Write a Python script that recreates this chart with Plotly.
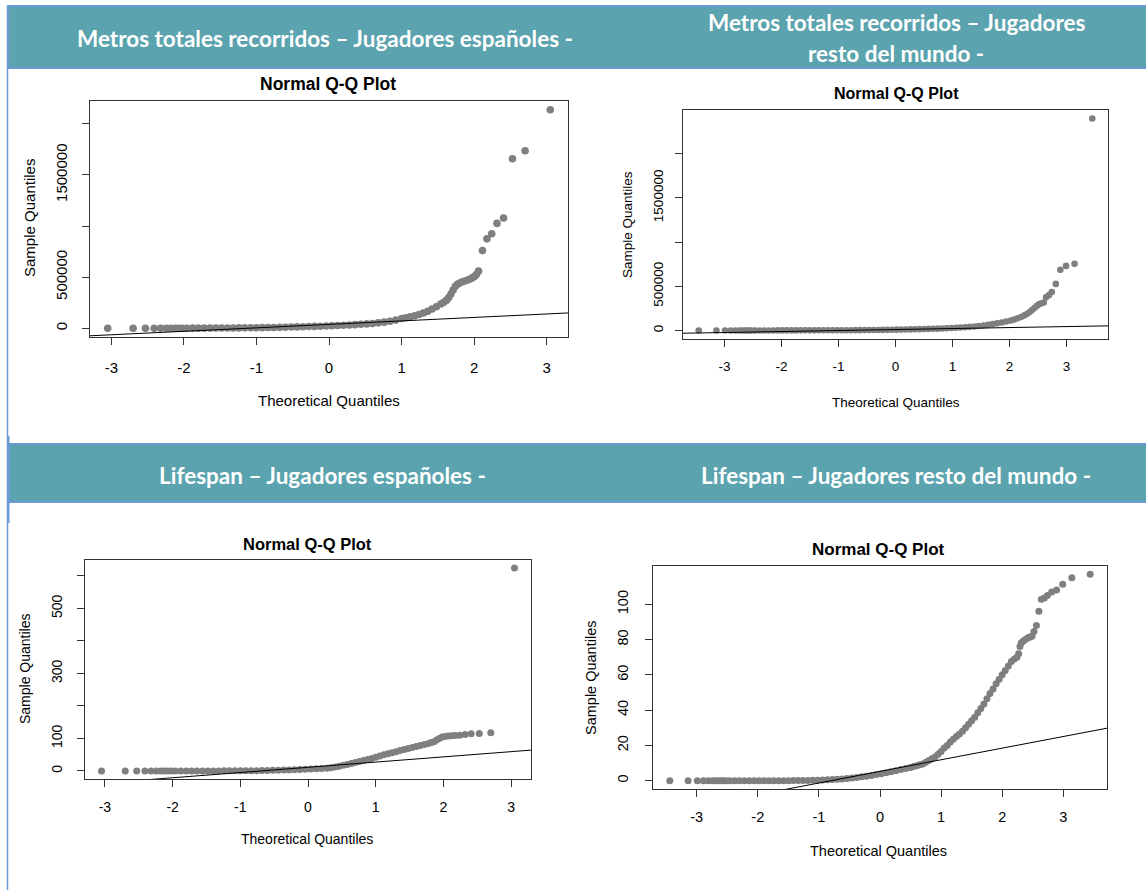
import plotly.graph_objects as go

W, H = 1146, 890

# ---------------- data ----------------
x_ticks = [-3, -2, -1, 0, 1, 2, 3]
x_ticktext = ["-3", "-2", "-1", "0", "1", "2", "3"]

# Panel 1: Metros totales recorridos - Jugadores españoles
p1_theo = [-3.05, -2.70, -2.53, -2.41, -2.32, -2.24, -2.175, -2.12, -2.07, -2.02,
           -1.96, -1.88, -1.80, -1.72, -1.64, -1.56, -1.48, -1.40, -1.32, -1.24,
           -1.16, -1.08, -1.00, -0.92, -0.84, -0.76, -0.68, -0.60, -0.52, -0.44,
           -0.36, -0.28, -0.20, -0.12, -0.04, 0.04, 0.12, 0.20, 0.28, 0.36,
           0.44, 0.52, 0.60, 0.68, 0.76, 0.84, 0.92, 1.00,
           1.06, 1.12, 1.18, 1.24, 1.30, 1.36, 1.42, 1.48, 1.54, 1.58,
           1.62, 1.65, 1.68, 1.71, 1.74, 1.77, 1.80, 1.84, 1.88, 1.92,
           1.96, 2.00, 2.03, 2.06,
           2.114, 2.176, 2.242, 2.314, 2.405, 2.528, 2.702, 3.049]
p1_sample = [0, 0, 0, 0, 0, 100, 200, 300, 400, 500,
             700, 900, 1100, 1300, 1600, 1900, 2200, 2600, 3000, 3500,
             4000, 4600, 5200, 6000, 6800, 7800, 9000, 10300, 11700, 13200,
             14800, 16500, 18300, 20300, 22400, 24600, 27000, 29500, 32200, 35200,
             38500, 42500, 47000, 53000, 60000, 68000, 80000, 95000,
             103000, 112000, 122000, 135000, 150000, 166000, 188000, 210000, 238000, 255000,
             275000, 300000, 335000, 375000, 410000, 430000, 443000, 455000, 465000, 475000,
             488000, 505000, 525000, 559000,
             760000, 875000, 924000, 1026000, 1079000, 1658000, 1737000, 2138000]
p1_line_x = [-3.3, 3.3]
p1_line_y = [-74000, 150000]
p1_yticks = [0, 500000, 1000000, 1500000, 2000000]
p1_yticktext = ["0", "500000", "", "1500000", ""]

# Panel 2: Metros totales recorridos - Jugadores resto del mundo
p2_theo = [-3.45, -3.14, -2.99, -2.89, -2.81, -2.74, -2.69, -2.64, -2.60, -2.56, -2.52,
           -2.46, -2.38, -2.30, -2.22, -2.14, -2.06, -1.98, -1.90, -1.82, -1.74,
           -1.66, -1.58, -1.50, -1.42, -1.34, -1.26, -1.18, -1.10, -1.02, -0.94,
           -0.86, -0.78, -0.70, -0.62, -0.54, -0.46, -0.38, -0.30, -0.22, -0.14,
           -0.06, 0.02, 0.10, 0.18, 0.26, 0.34, 0.42, 0.50, 0.58, 0.66,
           0.74, 0.82, 0.90, 0.98, 1.06, 1.14, 1.22, 1.30, 1.38, 1.46,
           1.54, 1.62, 1.70, 1.78, 1.86, 1.94, 2.02, 2.08, 2.14, 2.20,
           2.26, 2.31, 2.36, 2.40, 2.44, 2.48, 2.52, 2.56, 2.60, 2.64,
           2.69, 2.74, 2.81, 2.89, 2.99, 3.14, 3.45]
p2_sample = [0, 0, 0, 100, 200, 300, 350, 400, 450, 500, 550,
             600, 700, 800, 900, 1000, 1100, 1200, 1300, 1400, 1550,
             1700, 1850, 2000, 2150, 2300, 2500, 2700, 2900, 3100, 3300,
             3550, 3800, 4100, 4400, 4800, 5200, 5700, 6300, 7000, 7800,
             8700, 9600, 10600, 11600, 12700, 13900, 15200, 16600, 18100, 19700,
             21400, 23500, 25800, 28300, 31000, 34000, 37500, 41500, 46000, 51000,
             57000, 64000, 72000, 81000, 91000, 102000, 114000, 125000, 138000, 153000,
             171000, 190000, 212000, 235000, 258000, 280000, 298000, 308000, 316000, 375000,
             400000, 435000, 527000, 686000, 731000, 754000, 2398000]
p2_line_x = [-3.75, 3.75]
p2_line_y = [-31000, 53000]
p2_yticks = [0, 500000, 1000000, 1500000, 2000000]
p2_yticktext = ["0", "500000", "", "1500000", ""]

# Panel 3: Lifespan - Jugadores españoles
p3_theo = [-3.05, -2.70, -2.53, -2.41, -2.32, -2.24, -2.175, -2.12, -2.07, -2.02,
           -1.96, -1.88, -1.80, -1.72, -1.64, -1.56, -1.48, -1.40, -1.32, -1.24,
           -1.16, -1.08, -1.00, -0.92, -0.84, -0.76, -0.68, -0.60, -0.52, -0.44,
           -0.36, -0.28, -0.20, -0.12, -0.04, 0.04, 0.12, 0.20, 0.28, 0.34,
           0.40, 0.46, 0.52, 0.58, 0.64, 0.70, 0.76, 0.82, 0.88, 0.94,
           1.00, 1.06, 1.12, 1.18, 1.24, 1.30, 1.36, 1.42, 1.48, 1.54,
           1.60, 1.66, 1.72, 1.78, 1.82, 1.86, 1.90, 1.94, 1.98, 2.02,
           2.07, 2.12, 2.175, 2.24, 2.32, 2.41, 2.53, 2.70, 3.05]
p3_sample = [0, 0, 0, 0, 0, 0, 0, 0, 0, 0,
             0, 0, 0, 0, 0, 0, 0, 0, 0, 0.1,
             0.1, 0.2, 0.3, 0.4, 0.5, 0.7, 0.9, 1.2, 1.6, 2.0,
             2.5, 3.0, 3.6, 4.2, 4.8, 5.5, 6.3, 7.2, 8.5, 10,
             12, 14, 17, 20, 23, 26, 29, 32, 35, 38,
             42, 46, 50, 53, 56, 59, 63, 66, 69, 72,
             75, 78, 81, 84, 87, 90, 95, 100, 104, 106,
             107, 108, 109, 110, 112, 114, 115, 117, 624]
p3_line_x = [-3.3, 3.3]
p3_line_y = [-42, 64]
p3_yticks = [0, 100, 200, 300, 400, 500, 600]
p3_yticktext = ["0", "100", "", "300", "", "500", ""]

# Panel 4: Lifespan - Jugadores resto del mundo
p4_theo = [-3.44, -3.14, -2.99, -2.89, -2.81, -2.74, -2.69, -2.64, -2.60, -2.56, -2.52,
           -2.46, -2.38, -2.30, -2.22, -2.14, -2.06, -1.98, -1.90, -1.82, -1.74,
           -1.66, -1.58, -1.50, -1.42, -1.34, -1.26, -1.18, -1.10, -1.02, -0.94,
           -0.86, -0.78, -0.70, -0.62, -0.54, -0.46, -0.38, -0.30, -0.22, -0.14,
           -0.06, 0.02, 0.10, 0.18, 0.26, 0.34, 0.42, 0.50,
           0.55, 0.60, 0.65, 0.70, 0.75, 0.80, 0.85, 0.90, 0.95, 1.00,
           1.05, 1.10, 1.15, 1.20, 1.25, 1.30, 1.35, 1.40, 1.45, 1.50,
           1.55, 1.60, 1.65, 1.70, 1.75, 1.80, 1.85, 1.90, 1.95, 2.00,
           2.05, 2.10, 2.15, 2.20, 2.24, 2.27, 2.29, 2.31, 2.34, 2.38,
           2.42, 2.46, 2.49,
           2.52, 2.56, 2.60, 2.64, 2.69, 2.74, 2.81, 2.89, 2.99, 3.14, 3.44]
p4_sample = [0, 0, 0, 0, 0, 0, 0, 0, 0, 0, 0,
             0, 0, 0, 0, 0, 0, 0, 0, 0, 0,
             0, 0, 0, 0.1, 0.1, 0.15, 0.2, 0.25, 0.3, 0.4,
             0.5, 0.65, 0.8, 1.0, 1.2, 1.5, 1.8, 2.2, 2.6, 3.0,
             3.5, 4.0, 4.5, 5.1, 5.7, 6.3, 7.0, 7.5,
             8.0, 8.5, 9.0, 9.5, 10.5, 11.5, 12.5, 13.5, 15, 16.5,
             18.5, 20, 22, 23.5, 25, 26.5, 28, 30, 32, 34,
             36, 38.5, 41, 43.5, 46.5, 49.5, 52, 55, 57.5, 60,
             62.5, 65, 67.5, 69, 70, 72, 76, 78, 79, 80,
             81, 81.5, 82,
             84.5, 88, 96, 102.8, 103.5, 105, 107, 108.1, 111.3, 115, 117]
p4_line_x = [-3.75, 3.75]
p4_line_y = [-19.4, 30.0]
p4_yticks = [0, 20, 40, 60, 80, 100]
p4_yticktext = ["0", "20", "40", "60", "80", "100"]

banner_texts = ["Metros totales recorridos – Jugadores españoles -",
                "Metros totales recorridos – Jugadores",
                "resto del mundo -",
                "Lifespan – Jugadores españoles -",
                "Lifespan – Jugadores resto del mundo -"]

# ---------------- layout helpers (pixel -> paper) ----------------
def fx(px):
    return px / W

def fy(py):
    return 1 - py / H

R_FONT = "Liberation Sans, Arial, Helvetica, sans-serif"
BANNER_FONT = "Lato, Open Sans, sans-serif"
TEAL = "#5BA3AE"
BLUE = "#6A9BD4"
PT_COL = "#7F7F7F"
AX_COL = "#333333"

panels = [
    dict(theo=p1_theo, sample=p1_sample, lx=p1_line_x, ly=p1_line_y,
         yt=p1_yticks, ytt=p1_yticktext, box=(90, 101, 568, 337), ms=7.6, fs=15,
         title=(328, 84), xlab=(329, 401), ylab=(29, 218), xso=10, yso=9),
    dict(theo=p2_theo, sample=p2_sample, lx=p2_line_x, ly=p2_line_y,
         yt=p2_yticks, ytt=p2_yticktext, box=(683, 110, 1108, 339), ms=6.6, fs=13.5,
         title=(896, 93), xlab=(896, 402), ylab=(627, 225), xso=8, yso=7),
    dict(theo=p3_theo, sample=p3_sample, lx=p3_line_x, ly=p3_line_y,
         yt=p3_yticks, ytt=p3_yticktext, box=(85, 560, 531, 779), ms=7.0, fs=14,
         title=(307, 544), xlab=(307, 839), ylab=(25, 669), xso=8, yso=9),
    dict(theo=p4_theo, sample=p4_sample, lx=p4_line_x, ly=p4_line_y,
         yt=p4_yticks, ytt=p4_yticktext, box=(653, 566, 1107, 789), ms=7.0, fs=14.5,
         title=(878, 549), xlab=(878, 851), ylab=(591, 678), xso=8, yso=11),
]

fig = go.Figure()
annotations = []
layout_axes = {}

for i, p in enumerate(panels, start=1):
    sfx = "" if i == 1 else str(i)
    xa, ya = "x" + sfx, "y" + sfx
    fig.add_trace(go.Scatter(x=p["theo"], y=p["sample"], mode="markers",
                             marker=dict(color=PT_COL, size=p["ms"], line=dict(width=0)),
                             xaxis=xa, yaxis=ya, hoverinfo="x+y", cliponaxis=False))
    fig.add_trace(go.Scatter(x=p["lx"], y=p["ly"], mode="lines",
                             line=dict(color="black", width=1),
                             xaxis=xa, yaxis=ya, hoverinfo="skip"))
    # R-style axis ranges: data range extended by 4% on each side
    xmin, xmax = min(p["theo"]), max(p["theo"])
    ymin, ymax = min(p["sample"]), max(p["sample"])
    dx, dy = (xmax - xmin) * 0.04, (ymax - ymin) * 0.04
    x0, y0, x1, y1 = p["box"]
    common = dict(showgrid=False, zeroline=False, showline=True, mirror=True,
                  linecolor=AX_COL, linewidth=1, ticks="outside", ticklen=7,
                  tickcolor=AX_COL, tickwidth=1,
                  tickfont=dict(family=R_FONT, size=p["fs"], color="black"))
    layout_axes["xaxis" + sfx] = dict(common, domain=[fx(x0), fx(x1)],
                                      range=[xmin - dx, xmax + dx], anchor=ya,
                                      tickvals=x_ticks, ticktext=x_ticktext,
                                      ticklabelstandoff=p["xso"])
    layout_axes["yaxis" + sfx] = dict(common, domain=[fy(y1), fy(y0)],
                                      range=[ymin - dy, ymax + dy], anchor=xa,
                                      tickvals=p["yt"], ticktext=p["ytt"],
                                      tickangle=-90, ticklabelstandoff=p["yso"])
    annotations.append(dict(text="<b>Normal Q-Q Plot</b>", x=fx(p["title"][0]), y=fy(p["title"][1]),
                            xref="paper", yref="paper", showarrow=False,
                            xanchor="center", yanchor="middle",
                            font=dict(family=R_FONT, size=p["fs"] + 2.5, color="black")))
    annotations.append(dict(text="Theoretical Quantiles", x=fx(p["xlab"][0]), y=fy(p["xlab"][1]),
                            xref="paper", yref="paper", showarrow=False,
                            xanchor="center", yanchor="middle",
                            font=dict(family=R_FONT, size=p["fs"], color="black")))
    annotations.append(dict(text="Sample Quantiles", x=fx(p["ylab"][0]), y=fy(p["ylab"][1]),
                            xref="paper", yref="paper", showarrow=False, textangle=-90,
                            xanchor="center", yanchor="middle",
                            font=dict(family=R_FONT, size=p["fs"], color="black")))

# banners
shapes = [
    dict(type="line", xref="paper", yref="paper", x0=fx(7.5), x1=fx(7.5), y0=fy(6), y1=fy(890),
         line=dict(color=BLUE, width=1.5)),
    dict(type="rect", xref="paper", yref="paper", x0=fx(7), x1=fx(9.5), y0=fy(523), y1=fy(436),
         fillcolor=BLUE, line=dict(width=0)),
    dict(type="rect", xref="paper", yref="paper", x0=fx(8), x1=fx(1150), y0=fy(68), y1=fy(6),
         fillcolor=TEAL, line=dict(color=BLUE, width=2)),
    dict(type="rect", xref="paper", yref="paper", x0=fx(9), x1=fx(1150), y0=fy(502), y1=fy(444),
         fillcolor=TEAL, line=dict(color=BLUE, width=2)),
]
banner_pos = [(325, 38), (896, 23), (896, 54), (323, 475), (896, 475)]
for t, (bx, by) in zip(banner_texts, banner_pos):
    annotations.append(dict(text="<b>" + t + "</b>", x=fx(bx), y=fy(by), xref="paper", yref="paper",
                            showarrow=False, xanchor="center", yanchor="middle",
                            font=dict(family=BANNER_FONT, size=22.5, color="white")))

fig.update_layout(width=W, height=H, margin=dict(l=0, r=0, t=0, b=0),
                  paper_bgcolor="white", plot_bgcolor="white", showlegend=False,
                  shapes=shapes, annotations=annotations, **layout_axes)

fig.write_html("out.html")
